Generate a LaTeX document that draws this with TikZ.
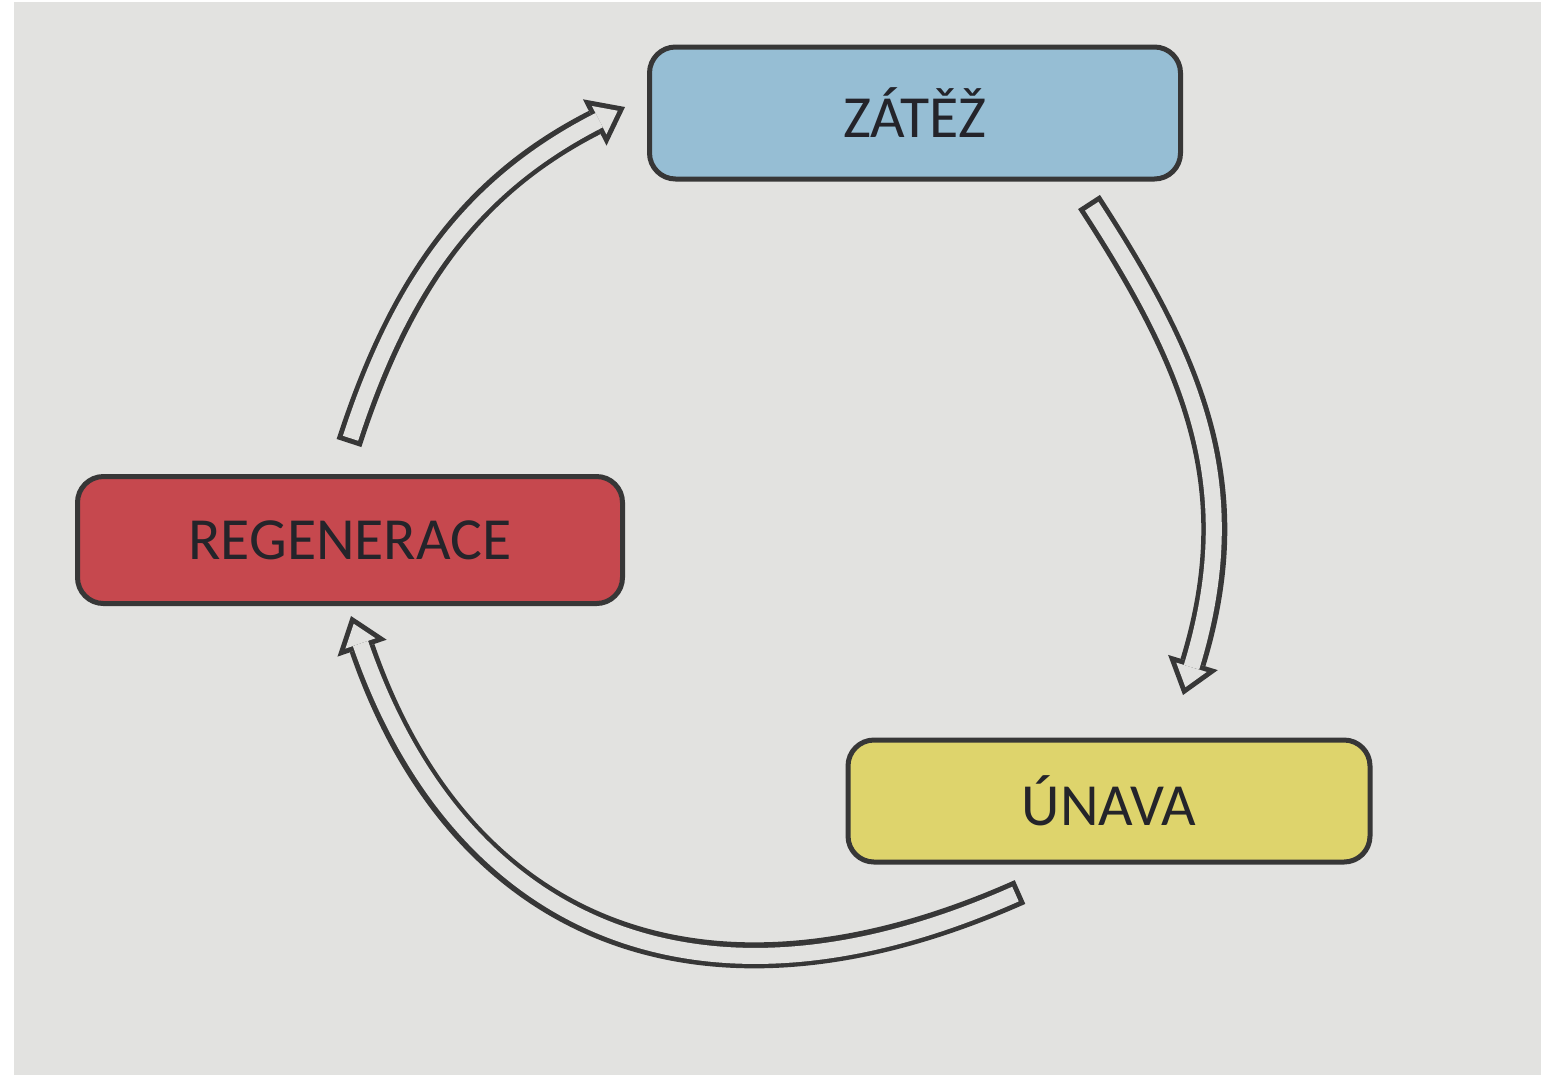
\documentclass[tikz,border=0pt]{standalone}
\usepackage{fontspec}
\setmainfont{Carlito}
\usetikzlibrary{arrows.meta}
\definecolor{cyclePaper}{RGB}{226,226,224}
\definecolor{cycleLine}{RGB}{55,55,55}
\definecolor{cycleText}{RGB}{36,36,42}
\definecolor{cycleLoad}{RGB}{150,190,212}
\definecolor{cycleRest}{RGB}{198,72,78}
\definecolor{cycleTired}{RGB}{222,212,108}
\tikzset{
  phasebox/.style={
    draw=cycleLine,
    line width=0.5mm,
    rounded corners=2.6mm,
    inner sep=0pt,
    align=center,
    text=cycleText,
    font=\fontsize{17}{20}\selectfont
  },
  hollowarrow/.style={
    preaction={
      draw=cycleLine,
      line width=2.6mm,
      shorten <=0pt,
      shorten >=0pt,
      -{Triangle[length=3.4mm,width=5.2mm,line width=0pt]}
    },
    draw=cyclePaper,
    line width=1.6mm,
    shorten <=0.5mm,
    shorten >=0.82mm,
    -{Triangle[length=2.08mm,width=3.18mm,line width=0pt]}
  }
}
\begin{document}
\begin{tikzpicture}[x=0.1mm,y=0.1mm]
  % paper
  \fill[white] (0,0) rectangle (1541,-1075);
  \fill[cyclePaper] (14,-2) rectangle (1541,-1075);
  \useasboundingbox (0,0) rectangle (1541,-1075);

  \node[phasebox, fill=cycleLoad, minimum width=53.1mm, minimum height=13.2mm] (zatez) at (915,-113) {ZÁTĚŽ};
  \node[phasebox, fill=cycleRest, minimum width=54.5mm, minimum height=12.7mm] (regen) at (350,-540) {REGENERACE};
  \node[phasebox, fill=cycleTired, minimum width=52.2mm, minimum height=12.2mm] (unava) at (1109,-801) {ÚNAVA};

  % arrow ends
  \coordinate (r2z) at (349,-443);
  \coordinate (z2r) at (625,-107);
  \coordinate (z2u) at (1089,-202);
  \coordinate (u2z) at (1183,-695);
  \coordinate (u2r) at (1020,-892);
  \coordinate (r2u) at (351,-616);

  \draw[hollowarrow] (r2z) to[out=72, in=207] (z2r);
  \draw[hollowarrow] (z2u) to[out=-57, in=73, in looseness=1.1] (u2z);
  \draw[hollowarrow] (u2r) to[out=204, in=289, out looseness=1.24, in looseness=1.17] (r2u);
\end{tikzpicture}
\end{document}
